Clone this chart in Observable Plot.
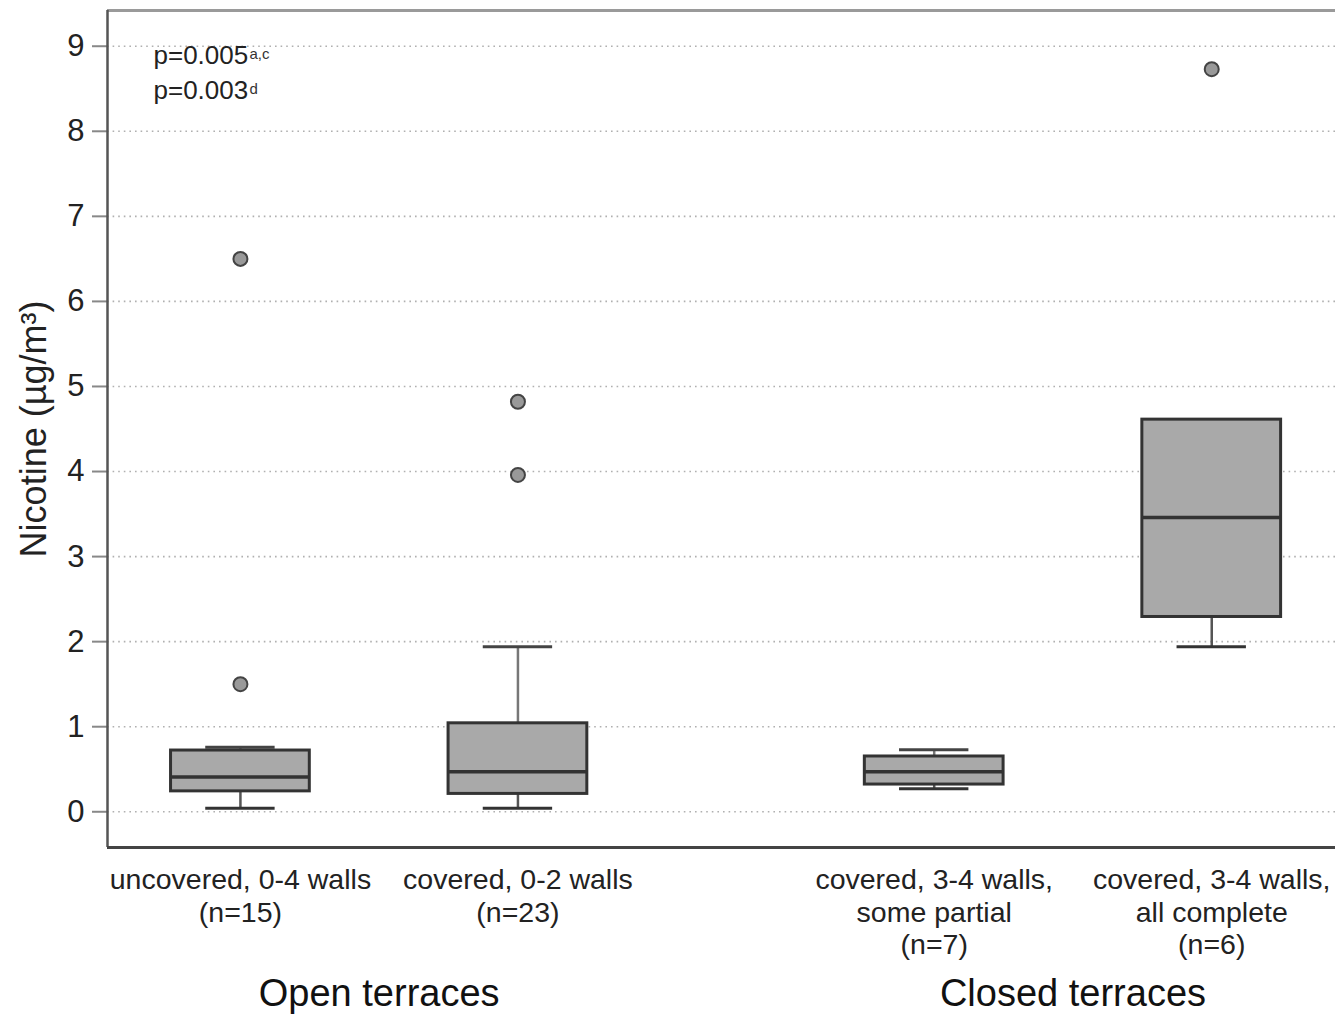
<!DOCTYPE html>
<html>
<head>
<meta charset="utf-8">
<script src="https://cdn.jsdelivr.net/npm/d3@7"></script>
<script src="https://cdn.jsdelivr.net/npm/@observablehq/plot@0.6"></script>
<style>
  html, body { margin: 0; padding: 0; background: #fff; }
  #chart svg { display: block; }
</style>
</head>
<body>
<div id="chart"></div>
<script>
// ---- Data ----
const categories = [
  "uncovered, 0-4 walls\n(n=15)",
  "covered, 0-2 walls\n(n=23)",
  "covered, 3-4 walls,\nsome partial\n(n=7)",
  "covered, 3-4 walls,\nall complete\n(n=6)"
];
const positions   = [0, 1, 2.5, 3.5];
const whiskerLow  = [0.04, 0.04, 0.27, 1.94];
const q1          = [0.24, 0.21, 0.32, 2.29];
const medians     = [0.41, 0.47, 0.47, 3.46];
const q3          = [0.72, 1.04, 0.65, 4.61];
const whiskerHigh = [0.76, 1.94, 0.73, 4.61];
const outlierCategory = [0, 0, 1, 1, 3];
const outlierValues   = [1.50, 6.50, 3.96, 4.82, 8.73];
const groups = ["Open terraces", "Closed terraces"];
const groupCenters = [0.5, 3.0];
const yTicks = [0, 1, 2, 3, 4, 5, 6, 7, 8, 9];
const yLabel = "Nicotine (µg/m³)";
const pLines = "p=0.005\np=0.003";
const pSups = "a,c\nd";

// ---- derived tables ----
const boxes = categories.map((c, i) => ({
  cat: c, pos: positions[i], lo: whiskerLow[i], q1: q1[i],
  med: medians[i], q3: q3[i], hi: whiskerHigh[i]
}));
const outliers = outlierValues.map((v, i) => ({pos: positions[outlierCategory[i]], value: v}));
const groupRows = groups.map((g, i) => ({label: g, pos: groupCenters[i]}));
const catByPos = new Map(positions.map((p, i) => [p, categories[i]]));

const BOX_HALF = 0.25, CAP_HALF = 0.125;
const xDom = [-0.479, 3.946], yDom = [-0.42, 9.42];

const chart = Plot.plot({
  width: 1335,
  height: 1016,
  marginLeft: 107,
  marginRight: 0,
  marginTop: 10,
  marginBottom: 169,
  style: {fontFamily: "'Liberation Sans', Arial, sans-serif", color: "#222", background: "#fff"},
  x: {domain: xDom},
  y: {domain: yDom},
  marks: [
    Plot.gridY(yTicks, {stroke: "#b0b0b0", strokeOpacity: 1, strokeWidth: 1.6, strokeDasharray: "1.6,4"}),
    Plot.axisY({ticks: yTicks, tickSize: 15, tickPadding: 8, fontSize: 31, stroke: "#888", strokeWidth: 2,
      label: null}),
    Plot.text([yLabel], {text: d => d, frameAnchor: "left", dx: -73, rotate: -90, fontSize: 36,
      textAnchor: "middle", lineAnchor: "middle", fill: "#222"}),
    Plot.axisX({ticks: positions, tickFormat: d => catByPos.get(d), tickSize: 0, tickPadding: 18,
      fontSize: 28.5, lineHeight: 1.15, label: null}),
    // frame
    Plot.ruleY([yDom[1]], {stroke: "#9a9a9a", strokeWidth: 3}),
    Plot.ruleX([xDom[0]], {stroke: "#555", strokeWidth: 2.5}),
    Plot.ruleY([yDom[0]], {stroke: "#444", strokeWidth: 3}),
    // whiskers
    Plot.ruleX(boxes, {x: "pos", y1: "lo", y2: "q1", stroke: "#555", strokeWidth: 2.5}),
    Plot.ruleX(boxes, {x: "pos", y1: "q3", y2: "hi", stroke: "#777", strokeWidth: 2.5}),
    Plot.ruleY(boxes, {y: "lo", x1: d => d.pos - CAP_HALF, x2: d => d.pos + CAP_HALF, stroke: "#333", strokeWidth: 3}),
    Plot.ruleY(boxes, {y: "hi", x1: d => d.pos - CAP_HALF, x2: d => d.pos + CAP_HALF, stroke: "#444", strokeWidth: 3}),
    // boxes
    Plot.rect(boxes, {x1: d => d.pos - BOX_HALF, x2: d => d.pos + BOX_HALF, y1: "q1", y2: "q3",
      fill: "#a9a9a9", stroke: "#333", strokeWidth: 3}),
    Plot.ruleY(boxes, {y: "med", x1: d => d.pos - BOX_HALF, x2: d => d.pos + BOX_HALF, stroke: "#333", strokeWidth: 3.5}),
    // outliers
    Plot.dot(outliers, {x: "pos", y: "value", r: 7, fill: "#999", stroke: "#444", strokeWidth: 2}),
    // group labels
    Plot.text(groupRows, {x: "pos", text: "label", frameAnchor: "bottom", dy: 158, fontSize: 38, fill: "#111"}),
    // p-value annotation
    Plot.text([pLines], {text: d => d, frameAnchor: "top-left", dx: 46, dy: 59.5, fontSize: 26,
      textAnchor: "start", lineAnchor: "middle", lineHeight: 1.35, fill: "#222"}),
    Plot.text([pSups], {text: d => d, frameAnchor: "top-left", dx: 142, dy: 55, fontSize: 15,
      textAnchor: "start", lineAnchor: "middle", lineHeight: 2.33, fill: "#333"})
  ]
});
document.getElementById("chart").appendChild(chart);
</script>
</body>
</html>
